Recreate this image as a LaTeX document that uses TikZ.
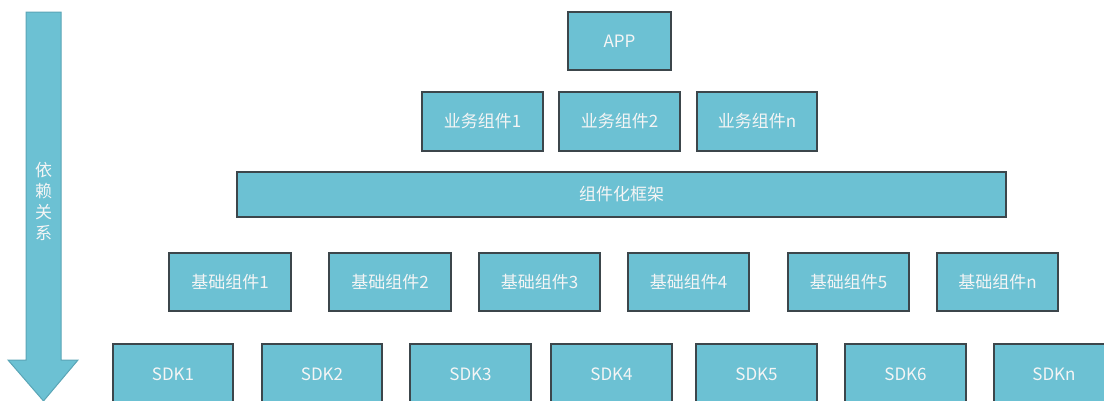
\documentclass[tikz,border=0pt]{standalone}
\usepackage{fontspec}
\setmainfont{Noto Sans CJK SC}
\begin{document}
\begin{tikzpicture}[x=1pt,y=-1pt,
  box/.style={draw=boxline,line width=1.3pt,fill=boxfill,text=boxtext,font=\fontsize{17}{20}\selectfont,inner sep=0pt},
]
\definecolor{boxfill}{RGB}{108,193,211}
\definecolor{boxline}{RGB}{60,70,75}
\definecolor{arrline}{RGB}{90,165,182}
\definecolor{boxtext}{RGB}{245,245,245}
\useasboundingbox (0,0) rectangle (1104,400);
\clip (0,0) rectangle (1104,400);
% dependency arrow
\draw[fill=boxfill,draw=arrline,line width=1pt] (26,12) -- (61,12) -- (61,360) -- (78,360) -- (43.5,401) -- (8,360) -- (26,360) -- cycle;
\node[text=boxtext,font=\fontsize{17}{21}\selectfont,align=center,inner sep=0pt] (dep) at (43.5,201) {依\\赖\\关\\系};
% boxes
\newcommand{\bx}[6]{\node[box,minimum width=#4-#2,minimum height=#5-#3] (#1) at ({(#2+#4)/2},{(#3+#5)/2}) {#6};}
\bx{app}{568}{12}{671}{70}{APP}
\bx{b1}{422}{92}{543}{151}{业务组件1}
\bx{b2}{559}{92}{680}{151}{业务组件2}
\bx{bn}{697}{92}{817}{151}{业务组件n}
\bx{fw}{237}{172}{1006}{217}{组件化框架}
\bx{j1}{169}{253}{291}{311}{基础组件1}
\bx{j2}{329}{253}{451}{311}{基础组件2}
\bx{j3}{479}{253}{600}{311}{基础组件3}
\bx{j4}{628}{253}{749}{311}{基础组件4}
\bx{j5}{788}{253}{909}{311}{基础组件5}
\bx{jn}{937}{253}{1058}{311}{基础组件n}
\bx{s1}{113}{344}{233}{404}{SDK1}
\bx{s2}{262}{344}{382}{404}{SDK2}
\bx{s3}{410}{344}{531}{404}{SDK3}
\bx{s4}{551}{344}{672}{404}{SDK4}
\bx{s5}{696}{344}{817}{404}{SDK5}
\bx{s6}{845}{344}{966}{404}{SDK6}
\bx{sn}{994}{344}{1114}{404}{SDKn}
\end{tikzpicture}
\end{document}
